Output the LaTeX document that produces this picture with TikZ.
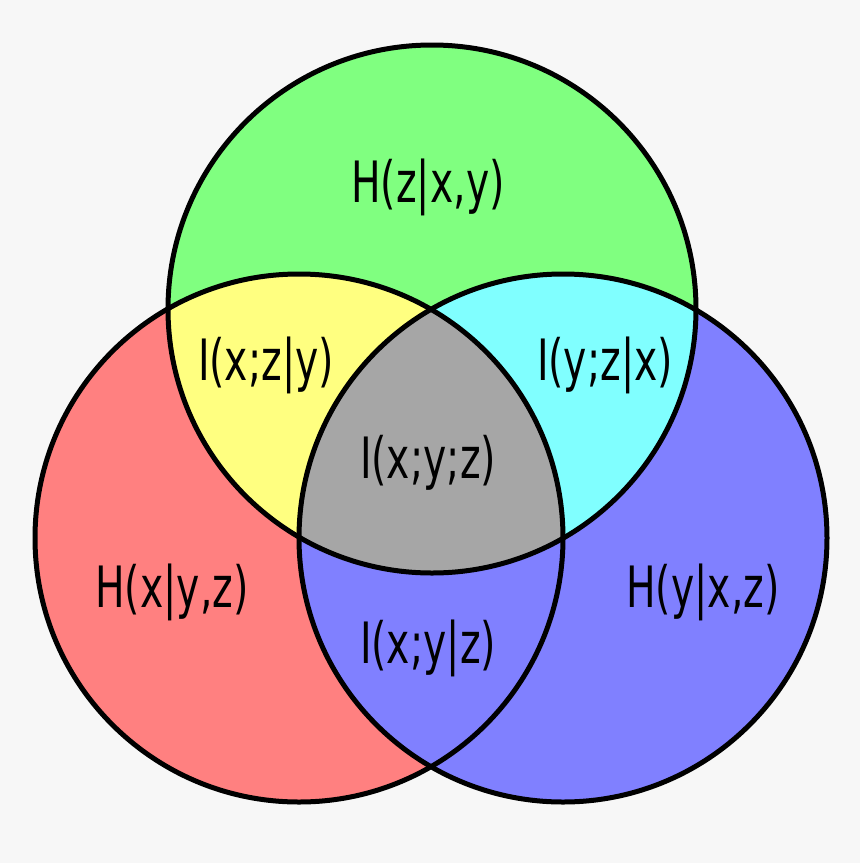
\documentclass[tikz,border=0pt]{standalone}
\usepackage{fontspec}
\setmainfont{DejaVu Sans}
\definecolor{bgc}{HTML}{F7F7F7}
\definecolor{redc}{HTML}{FF8080}
\definecolor{greenc}{HTML}{80FF80}
\definecolor{bluec}{HTML}{8080FF}
\definecolor{yellowc}{HTML}{FFFF80}
\definecolor{cyanc}{HTML}{80FFFF}
\definecolor{grayc}{HTML}{A6A6A6}
\begin{document}
\begin{tikzpicture}[x=1pt,y=-1pt,
  lbl/.style={anchor=base, inner sep=0pt, font=\fontsize{57}{60}\selectfont},
  ring/.style={draw=black, line width=5pt}]
\fill[bgc] (0,0) rectangle (860,863);
\useasboundingbox (0,0) rectangle (860,863);
\def\rr{264}
\coordinate (cz) at (432,309);
\coordinate (cx) at (299,538);
\coordinate (cy) at (563,538);
\fill[redc] (cx) circle[radius=\rr];
\fill[bluec] (cy) circle[radius=\rr];
\fill[greenc] (cz) circle[radius=\rr];
\begin{scope}
  \clip (cz) circle[radius=\rr];
  \fill[yellowc] (cx) circle[radius=\rr];
  \fill[cyanc] (cy) circle[radius=\rr];
  \clip (cx) circle[radius=\rr];
  \fill[grayc] (cy) circle[radius=\rr];
\end{scope}
\draw[ring] (cx) circle[radius=\rr];
\draw[ring] (cy) circle[radius=\rr];
\draw[ring] (cz) circle[radius=\rr];
\node[lbl] (hz) at (428,202) {\scalebox{0.69}[1]{H(z|x,y)}};
\node[lbl] (ixz) at (266,380) {\scalebox{0.69}[1]{I(x;z|y)}};
\node[lbl] (iyz) at (605,380) {\scalebox{0.69}[1]{I(y;z|x)}};
\node[lbl] (ixyz) at (428,478) {\scalebox{0.69}[1]{I(x;y;z)}};
\node[lbl] (hx) at (172,607) {\scalebox{0.69}[1]{H(x|y,z)}};
\node[lbl] (hy) at (703,607) {\scalebox{0.69}[1]{H(y|x,z)}};
\node[lbl] (ixy) at (428,663) {\scalebox{0.69}[1]{I(x;y|z)}};
\end{tikzpicture}
\end{document}
